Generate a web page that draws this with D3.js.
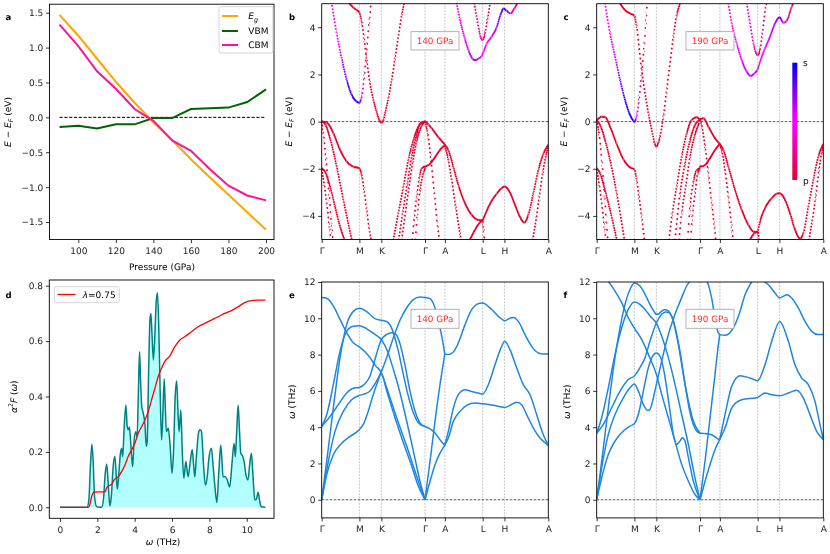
<!DOCTYPE html>
<html><head><meta charset="utf-8">
<script src="https://cdn.jsdelivr.net/npm/d3@7/dist/d3.min.js"></script>
<style>html,body{margin:0;padding:0;background:#fff;}svg{display:block;will-change:transform;}text{white-space:pre;text-rendering:geometricPrecision;-webkit-font-smoothing:antialiased;}</style>
</head><body>
<svg id="fig" width="830" height="554" xmlns="http://www.w3.org/2000/svg"></svg>
<script>
// ================= DATA =================
// panel a
const pressure = [90,100,110,120,130,140,150,160,170,180,190,200];
const gapEg = [1.47,1.17,0.84,0.51,0.21,-0.07,-0.33,-0.60,-0.86,-1.11,-1.36,-1.61];
const vbm   = [-0.14,-0.12,-0.16,-0.10,-0.10,-0.01,-0.01,0.12,0.13,0.14,0.22,0.40];
const cbm   = [1.33,1.02,0.66,0.41,0.12,-0.05,-0.33,-0.48,-0.74,-0.98,-1.12,-1.19];
const pressTicks = [100,120,140,160,180,200];
const eTicksA = [-1.5,-1.0,-0.5,0.0,0.5,1.0,1.5];

// k-path
const kTicks = [0,0.575,0.910,1.576,1.879,2.455,2.787,3.456];
const kLabels = ["Γ","M","K","Γ","A","L","H","A"];
const bandTicks = [-4,-2,0,2,4];
const phononTicks = [0,2,4,6,8,10,12];

// panel b : electronic bands at 140 GPa, [k, E]
const bands140 = [
 [[0.150,5.05],[0.229,3.74],[0.305,2.68],[0.381,1.77],[0.458,1.13],[0.534,0.85],[0.574,0.80],[0.610,1.03],[0.646,1.84],[0.686,3.04],[0.727,4.31],[0.752,5.0]],
 [[0.422,5.01],[0.483,4.84],[0.534,4.73],[0.574,4.63],[0.610,4.24],[0.646,3.53],[0.686,2.61],[0.737,1.62],[0.788,0.92],[0.839,0.40],[0.875,0.08],[0.910,-0.04],[0.945,0.08],[0.966,0.35],[1.017,0.99],[1.068,1.77],[1.118,2.68],[1.169,3.60],[1.220,4.52],[1.256,5.0]],
 [[0,0],[0.076,-0.04],[0.178,-0.49],[0.280,-1.20],[0.381,-1.69],[0.483,-1.91],[0.574,-1.98],[0.610,-2.26],[0.646,-2.90],[0.686,-3.74],[0.727,-4.59],[0.752,-5.0]],
 [[0,0],[0.051,-0.10],[0.127,-0.71],[0.229,-1.91],[0.330,-3.32],[0.458,-5.0]],
 [[0,0],[0.025,-0.49],[0.066,-1.62],[0.112,-3.04],[0.152,-4.45],[0.168,-5.0]],
 [[0,-1.98],[0.051,-2.12],[0.127,-2.75],[0.203,-3.60],[0.280,-4.45],[0.346,-5.0]],
 [[0,-2.05],[0.036,-2.61],[0.076,-3.46],[0.117,-4.45],[0.137,-5.0]],
 [[1.093,-5.0],[1.169,-3.88],[1.246,-2.75],[1.322,-1.62],[1.398,-0.78],[1.474,-0.21],[1.525,-0.03],[1.576,0]],
 [[1.174,-5.0],[1.235,-3.88],[1.307,-2.61],[1.373,-1.48],[1.439,-0.64],[1.500,-0.10],[1.576,0]],
 [[1.220,-5.0],[1.270,-4.0],[1.330,-2.8],[1.390,-1.7],[1.450,-0.8],[1.520,-0.2],[1.576,0]],
 [[1.383,-5.0],[1.408,-4.17],[1.449,-3.18],[1.490,-2.33],[1.525,-1.98],[1.576,-1.91]],
 [[1.430,-5.0],[1.460,-3.9],[1.500,-2.9],[1.550,-2.19],[1.576,-2.0]],
 [[1.576,0],[1.627,-0.12],[1.677,-0.28],[1.779,-0.66],[1.880,-0.99],[1.931,-1.20],[2.007,-1.91],[2.083,-2.68],[2.185,-3.46],[2.286,-3.95],[2.388,-4.17],[2.455,-4.19]],
 [[2.455,-4.19],[2.491,-3.95],[2.567,-3.49],[2.669,-3.06],[2.745,-2.82],[2.786,-2.75],[2.872,-3.01],[2.948,-3.53],[3.025,-4.05],[3.091,-4.28],[3.152,-3.95],[3.228,-3.04],[3.304,-2.05],[3.380,-1.37],[3.456,-0.99]],
 [[1.576,-1.91],[1.652,-1.79],[1.728,-1.51],[1.804,-1.20],[1.880,-0.99]],
 [[1.576,-0.03],[1.616,-0.49],[1.667,-1.62],[1.718,-3.04],[1.769,-4.45],[1.794,-5.0]],
 [[1.880,-1.06],[1.931,-1.62],[1.982,-2.47],[2.043,-3.60],[2.109,-4.73],[2.125,-5.0]],
 [[2.262,-5.0],[2.338,-4.59],[2.414,-4.28],[2.455,-4.19],[2.471,-4.59],[2.481,-5.0]],
 [[3.218,-5.0],[3.269,-4.17],[3.319,-3.18],[3.370,-2.19],[3.416,-1.48],[3.456,-1.06]],
 [[2.059,5.01],[2.109,4.31],[2.175,3.60],[2.236,3.04],[2.297,2.68],[2.338,2.60],[2.388,2.67],[2.439,2.78],[2.470,2.97],[2.515,3.29],[2.591,3.60],[2.669,4.00],[2.734,4.59],[2.775,4.80],[2.821,4.70],[2.882,4.59],[2.938,4.80],[2.989,5.04]],
 [[2.328,5.01],[2.363,4.45],[2.399,3.88],[2.429,3.53],[2.455,3.46],[2.491,3.74],[2.526,4.31],[2.567,4.99]]
];
// s-orbital weight (0 = p, 1 = s) for bands with mixed character
const sWeight140 = {
 0:  [0.45,0.5,0.6,0.8,0.9,0.95,0.9,0.5,0.25,0.1,0,0],
 19: [0.45,0.5,0.55,0.6,0.65,0.68,0.6,0.5,0.45,0.5,0.55,0.65,0.8,0.9,0.75,0.35,0.25,0.2],
 20: [0.1,0.12,0.2,0.3,0.35,0.25,0.1,0.05]
};

// panel c : electronic bands at 190 GPa
const bands190 = [
 [[0.127,5.01],[0.203,3.74],[0.280,2.75],[0.356,1.77],[0.432,0.92],[0.508,0.28],[0.559,0.04],[0.574,-0.01],[0.610,0.21],[0.645,0.92],[0.686,2.05],[0.727,3.32],[0.752,4.3],[0.770,5.02]],
 [[0.356,5.01],[0.432,4.73],[0.508,4.59],[0.574,4.49],[0.610,4.03],[0.645,3.18],[0.686,2.19],[0.737,1.20],[0.788,0.35],[0.849,-0.49],[0.880,-0.90],[0.910,-1.06],[0.940,-0.90],[0.966,-0.64],[1.017,0.21],[1.068,1.34],[1.118,2.47],[1.169,3.60],[1.220,4.52],[1.271,4.99]],
 [[0,0.04],[0.076,0.21],[0.137,0.17],[0.203,-0.21],[0.305,-0.95],[0.407,-1.60],[0.508,-1.94],[0.574,-2.02],[0.610,-2.47],[0.645,-3.18],[0.686,-4.03],[0.727,-5.0]],
 [[0,0.04],[0.051,-0.14],[0.127,-0.78],[0.203,-1.62],[0.305,-3.04],[0.422,-5.0]],
 [[0,0],[0.036,-0.49],[0.076,-1.62],[0.117,-3.04],[0.153,-4.45],[0.168,-5.0]],
 [[0,-1.98],[0.051,-2.19],[0.127,-2.90],[0.203,-3.74],[0.305,-5.0]],
 [[0,-2.05],[0.036,-2.61],[0.076,-3.46],[0.117,-4.45],[0.137,-5.0]],
 [[1.103,-5.0],[1.154,-3.88],[1.220,-2.75],[1.296,-1.48],[1.373,-0.49],[1.449,0.07],[1.525,0.18],[1.576,0.07]],
 [[1.195,-5.0],[1.271,-3.04],[1.347,-1.77],[1.424,-0.78],[1.500,-0.14],[1.576,0.07]],
 [[1.256,-5.0],[1.296,-3.88],[1.358,-2.75],[1.424,-1.48],[1.490,-0.64],[1.561,-0.07]],
 [[1.388,-5.0],[1.424,-3.60],[1.475,-2.54],[1.525,-2.05],[1.576,-1.98]],
 [[1.434,-5.0],[1.459,-4.03],[1.500,-3.04],[1.540,-2.19],[1.576,-2.0]],
 [[1.576,0.10],[1.627,0.14],[1.703,-0.21],[1.805,-0.71],[1.876,-0.95],[1.932,-1.20],[2.008,-1.91],[2.110,-2.90],[2.211,-3.74],[2.313,-4.38],[2.389,-4.66],[2.455,-4.70]],
 [[2.455,-4.70],[2.491,-4.24],[2.567,-3.67],[2.669,-3.25],[2.745,-3.06],[2.791,-3.04],[2.872,-3.32],[2.948,-3.88],[3.025,-4.59],[3.101,-4.96],[3.152,-4.73],[3.228,-3.60],[3.304,-2.47],[3.380,-1.48],[3.457,-0.95]],
 [[1.576,-1.91],[1.652,-1.84],[1.728,-1.55],[1.805,-1.20],[1.876,-0.95]],
 [[1.576,0.10],[1.601,-0.14],[1.652,-1.06],[1.703,-2.19],[1.754,-3.46],[1.795,-4.45],[1.815,-5.0]],
 [[1.876,-0.95],[1.906,-1.20],[1.957,-2.05],[2.008,-3.18],[2.059,-4.45],[2.079,-5.0]],
 [[2.339,-5.0],[2.405,-4.73],[2.455,-4.66],[2.476,-5.0]],
 [[3.238,-5.0],[3.289,-4.17],[3.340,-3.18],[3.390,-2.05],[3.431,-1.34],[3.457,-1.06]],
 [[2.008,5.01],[2.059,4.17],[2.135,3.32],[2.211,2.61],[2.288,2.12],[2.349,1.94],[2.405,2.05],[2.455,2.22],[2.491,2.54],[2.557,3.04],[2.643,3.60],[2.720,4.17],[2.791,4.42],[2.847,4.19],[2.898,4.28],[2.974,4.87],[3.000,5.04]],
 [[2.288,5.01],[2.339,4.17],[2.389,3.32],[2.430,2.90],[2.455,2.82],[2.491,3.04],[2.526,3.74],[2.577,4.87],[2.585,5.02]]
];
const sWeight190 = {
 0:  [0.5,0.5,0.55,0.7,0.85,0.95,0.95,0.9,0.5,0.2,0.05,0,0,0],
 19: [0.4,0.45,0.5,0.55,0.6,0.62,0.6,0.55,0.45,0.5,0.55,0.65,0.8,0.45,0.3,0.2,0.15],
 20: [0.5,0.45,0.35,0.25,0.2,0.15,0.1,0.05,0.05]
};

// panel d : Eliashberg function [omega THz, value] and cumulative lambda
const a2F = [[0,0],[1.0,0],[1.45,0],[1.55,0.03],[1.63,0.15],[1.71,0.228],[1.78,0.16],[1.85,0.04],[1.96,0.003],[2.1,0],[2.23,0],[2.33,0.03],[2.42,0.12],[2.50,0.156],[2.58,0.09],[2.67,0.005],[2.75,0.04],[2.85,0.15],[2.94,0.183],[3.0,0.13],[3.07,0.065],[3.15,0.12],[3.23,0.19],[3.30,0.213],[3.36,0.183],[3.43,0.28],[3.53,0.369],[3.60,0.29],[3.66,0.28],[3.72,0.29],[3.78,0.24],[3.89,0.146],[3.97,0.243],[4.06,0.273],[4.13,0.255],[4.20,0.42],[4.26,0.562],[4.32,0.45],[4.37,0.37],[4.46,0.339],[4.55,0.30],[4.62,0.22],[4.67,0.24],[4.75,0.50],[4.82,0.68],[4.87,0.70],[4.93,0.62],[5.0,0.532],[5.08,0.62],[5.15,0.74],[5.22,0.775],[5.29,0.65],[5.37,0.40],[5.44,0.243],[5.50,0.32],[5.58,0.463],[5.64,0.36],[5.70,0.273],[5.80,0.285],[5.90,0.22],[6.0,0.123],[6.08,0.2],[6.17,0.40],[6.25,0.456],[6.32,0.34],[6.38,0.273],[6.47,0.351],[6.55,0.2],[6.63,0.105],[6.74,0.165],[6.86,0.11],[6.95,0.15],[7.08,0.209],[7.16,0.15],[7.22,0.11],[7.30,0.18],[7.43,0.273],[7.50,0.28],[7.58,0.273],[7.68,0.16],[7.79,0.08],[7.90,0.12],[7.97,0.175],[8.11,0.213],[8.20,0.15],[8.29,0.08],[8.40,0.017],[8.50,0.12],[8.61,0.225],[8.68,0.16],[8.73,0.11],[8.85,0.11],[8.95,0.10],[9.09,0.074],[9.20,0.15],[9.32,0.231],[9.39,0.183],[9.46,0.27],[9.54,0.369],[9.61,0.28],[9.68,0.195],[9.78,0.185],[9.86,0.165],[9.95,0.12],[10.07,0.099],[10.15,0.15],[10.25,0.195],[10.33,0.12],[10.43,0.026],[10.52,0.03],[10.61,0.054],[10.70,0.02],[10.78,0.002],[11.0,0]];
const lambdaCum = [[0,0],[1.52,0],[1.60,0.01],[1.69,0.038],[1.78,0.052],[1.84,0.055],[2.41,0.056],[2.50,0.07],[2.58,0.077],[2.76,0.082],[2.90,0.099],[3.12,0.111],[3.30,0.129],[3.48,0.153],[3.65,0.183],[3.83,0.207],[4.01,0.231],[4.19,0.267],[4.37,0.291],[4.55,0.315],[4.72,0.345],[4.90,0.387],[5.08,0.429],[5.26,0.472],[5.44,0.502],[5.61,0.526],[5.88,0.546],[6.15,0.58],[6.42,0.604],[6.68,0.616],[7.04,0.634],[7.40,0.652],[7.75,0.664],[8.11,0.676],[8.47,0.688],[8.82,0.70],[9.18,0.71],[9.54,0.724],[9.89,0.739],[10.25,0.746],[10.61,0.748],[11.0,0.748]];
const omegaTicks = [0,2,4,6,8,10];
const a2fTicks = [0.0,0.2,0.4,0.6,0.8];

// panel e : phonon branches at 140 GPa [k, omega THz]
const phonon140 = [
 [[0,11.14],[0.076,11.10],[0.177,10.68],[0.279,9.94],[0.381,9.21],[0.482,8.65],[0.574,8.43],[0.660,8.16],[0.737,7.83],[0.813,7.42],[0.910,7.0],[0.991,6.17],[1.143,4.52],[1.296,2.96],[1.448,1.30],[1.576,0]],
 [[0,0],[0.076,2.11],[0.177,5.05],[0.279,7.81],[0.381,9.65],[0.482,10.38],[0.574,10.55],[0.660,10.44],[0.737,10.21],[0.813,9.98],[0.910,9.89],[0.965,9.85],[1.016,9.76],[1.093,9.21],[1.169,8.19],[1.245,6.91],[1.321,5.71],[1.398,4.79],[1.474,4.24],[1.525,4.10],[1.576,4.06]],
 [[0,0],[0.101,2.11],[0.203,3.77],[0.330,4.87],[0.457,5.51],[0.574,5.75],[0.660,5.84],[0.737,5.99],[0.813,6.39],[0.910,7.06],[0.991,7.83],[1.093,8.93],[1.194,9.89],[1.296,10.58],[1.398,11.03],[1.499,11.17],[1.576,11.14]],
 [[0,0],[0.076,1.38],[0.177,2.48],[0.305,3.12],[0.432,3.49],[0.574,3.86],[0.635,4.15],[0.711,4.89],[0.788,5.81],[0.849,6.45],[0.910,6.95],[0.991,6.0],[1.118,4.52],[1.245,3.15],[1.372,1.86],[1.474,0.75],[1.576,0]],
 [[0,4.04],[0.127,4.59],[0.254,5.24],[0.381,5.88],[0.482,6.15],[0.574,6.19],[0.660,6.39],[0.737,6.82],[0.813,7.74],[0.910,8.82],[0.991,9.11],[1.067,9.21],[1.133,9.11],[1.194,8.60],[1.270,7.42],[1.347,5.99],[1.423,4.89],[1.499,4.24],[1.576,4.04]],
 [[0,4.04],[0.076,4.68],[0.177,6.34],[0.279,8.18],[0.381,9.28],[0.482,9.56],[0.574,9.59],[0.660,9.48],[0.737,9.30],[0.813,9.11],[0.910,8.82],[0.991,8.29],[1.093,7.19],[1.194,5.90],[1.296,4.34],[1.398,2.68],[1.499,1.03],[1.576,0]],
 [[1.576,11.15],[1.652,11.08],[1.728,10.57],[1.804,9.46],[1.855,8.54],[1.876,8.03]],
 [[1.576,0],[1.652,2.11],[1.728,4.32],[1.804,6.34],[1.855,7.53],[1.876,8.03]],
 [[1.576,4.04],[1.652,3.91],[1.728,3.68],[1.804,3.31],[1.876,3.0]],
 [[1.576,0],[1.652,1.01],[1.728,1.93],[1.804,2.57],[1.876,3.0]],
 [[1.876,8.03],[1.931,8.0],[2.008,8.14],[2.084,8.64],[2.186,9.65],[2.287,10.48],[2.364,10.77],[2.455,10.84],[2.567,10.57],[2.694,10.11],[2.791,9.87],[2.872,10.01],[2.923,10.05],[2.999,9.83],[3.101,9.1],[3.202,8.45],[3.304,8.09],[3.380,8.03],[3.457,8.03]],
 [[1.876,3.0],[1.931,3.77],[2.008,5.05],[2.084,5.79],[2.186,6.06],[2.287,5.97],[2.389,5.88],[2.455,5.83],[2.541,6.34],[2.643,7.44],[2.745,8.45],[2.791,8.73],[2.872,8.27],[2.974,7.26],[3.075,6.34],[3.177,5.79],[3.279,4.69],[3.380,3.58],[3.457,3.0]],
 [[1.876,3.0],[1.931,3.4],[2.008,4.32],[2.109,4.87],[2.211,5.2],[2.338,5.33],[2.455,5.29],[2.567,5.24],[2.694,5.15],[2.791,5.09],[2.872,5.2],[2.974,5.38],[3.050,5.24],[3.126,4.69],[3.228,3.95],[3.329,3.4],[3.457,3.0]]
];
// panel f : phonon branches at 190 GPa
const phonon190 = [
 [[0,0],[0.051,1.40],[0.127,3.60],[0.203,5.81],[0.279,7.83],[0.356,9.48],[0.432,10.77],[0.508,11.59],[0.574,11.94],[0.660,11.78],[0.737,11.32],[0.813,10.77],[0.879,10.35],[0.910,10.22],[0.950,10.25],[0.991,10.40],[1.042,10.47],[1.093,10.40],[1.154,10.03],[1.220,9.11],[1.286,7.83],[1.347,6.36],[1.408,5.07],[1.474,4.15],[1.525,3.79],[1.576,3.66]],
 [[0,3.66],[0.076,4.52],[0.177,6.17],[0.279,8.01],[0.381,9.48],[0.482,10.49],[0.574,10.90],[0.660,10.77],[0.737,10.49],[0.828,10.07],[0.910,9.74],[0.991,9.02],[1.093,7.83],[1.194,6.36],[1.296,4.70],[1.398,3.05],[1.499,1.21],[1.576,0]],
 [[0,0],[0.076,1.21],[0.177,2.50],[0.279,3.23],[0.406,3.79],[0.508,4.06],[0.574,4.19],[0.635,4.70],[0.711,5.99],[0.788,7.28],[0.864,7.98],[0.910,8.09],[0.965,7.92],[1.016,7.28],[1.067,6.17],[1.118,4.89],[1.169,3.60],[1.220,3.05],[1.270,3.23],[1.306,3.42],[1.347,3.23],[1.398,2.32],[1.474,1.03],[1.576,0]],
 [[0,3.66],[0.101,4.15],[0.228,5.07],[0.356,5.99],[0.482,6.63],[0.574,6.82],[0.660,7.28],[0.737,7.83],[0.813,8.75],[0.910,9.74],[0.991,10.22],[1.052,10.35],[1.103,10.31],[1.169,9.85],[1.245,8.56],[1.321,6.91],[1.398,5.44],[1.474,4.34],[1.576,3.66]],
 [[0,0],[0.076,1.76],[0.177,3.60],[0.279,4.70],[0.406,5.62],[0.508,6.17],[0.574,6.38],[0.635,5.99],[0.711,5.26],[0.777,4.92],[0.813,4.98],[0.864,5.62],[0.910,6.36],[0.991,7.64],[1.093,9.11],[1.194,10.22],[1.296,11.14],[1.372,11.78],[1.423,12.05],[1.500,12.4],[1.576,12.55]],
 [[0,12.6],[0.090,12.35],[0.178,12.02],[0.279,11.5],[0.381,10.86],[0.482,10.03],[0.574,9.46],[0.686,8.84],[0.788,8.01],[0.910,6.91],[0.991,5.81],[1.093,4.52],[1.194,3.23],[1.296,1.95],[1.398,1.03],[1.499,0.29],[1.576,0]],
 [[1.576,12.55],[1.620,12.45],[1.652,12.22],[1.703,11.85],[1.753,11.12],[1.804,10.01],[1.845,9.28],[1.876,9.1]],
 [[1.576,0],[1.652,2.11],[1.728,4.50],[1.804,6.89],[1.855,8.54],[1.876,9.1]],
 [[1.576,3.66],[1.678,3.64],[1.753,3.58],[1.830,3.4],[1.876,3.31]],
 [[1.576,0],[1.652,1.01],[1.728,1.93],[1.804,2.76],[1.876,3.31]],
 [[1.876,9.1],[1.957,9.06],[2.029,9.19],[2.109,9.65],[2.186,10.38],[2.262,11.30],[2.338,11.85],[2.414,12.22],[2.455,12.3],[2.516,12.13],[2.618,11.85],[2.720,11.39],[2.791,11.12],[2.847,11.21],[2.897,11.30],[2.974,11.12],[3.075,10.57],[3.177,9.83],[3.279,9.28],[3.380,9.1],[3.457,9.1]],
 [[1.876,3.31],[1.957,4.69],[2.059,6.25],[2.186,6.84],[2.338,6.71],[2.455,6.56],[2.567,7.44],[2.669,8.73],[2.791,9.83],[2.923,8.73],[3.024,7.44],[3.126,6.71],[3.228,6.34],[3.329,5.42],[3.406,4.13],[3.457,3.31]],
 [[1.876,3.31],[1.957,3.95],[2.059,5.05],[2.211,5.51],[2.455,5.64],[2.567,5.88],[2.669,5.79],[2.791,5.73],[2.923,5.88],[3.050,6.03],[3.152,5.60],[3.253,4.69],[3.355,3.77],[3.457,3.31]]
];

// ================= DRAWING =================
const svg = d3.select("#fig");
const defs = svg.append("defs");
const FONT = "DejaVu Sans, sans-serif";
const FS = 9;
const STEP = 0.55;
const H = 554;

const boxA = {l:49.5, r:274,   t:4.2, b:239.5};
const boxB = {l:321.7, r:548.3, t:3.7, b:239.5};
const boxC = {l:596.7, r:823.3, t:3.7, b:239.5};
const boxD = {l:49.3, r:274,   t:280, b:518.3};
const boxE = {l:321.7, r:548.3, t:282, b:517.9};
const boxF = {l:596.7, r:823.3, t:282, b:517.9};

const sColor = d3.scaleLinear().domain([0,0.5,1]).range(["#e6002e","#ff00ff","#0000ff"]);
const phColor = "#1f86e0";

let uid = 0;
function clipFor(box){
  const id = "clp" + (uid++);
  defs.append("clipPath").attr("id", id).append("rect")
    .attr("x", box.l).attr("y", box.t).attr("width", box.r - box.l).attr("height", box.b - box.t);
  return `url(#${id})`;
}
function axes(box, x, y, xt, xf, yt, yf){
  const gx = svg.append("g").attr("transform", `translate(0,${box.b})`)
    .call(d3.axisBottom(x).tickValues(xt).tickFormat(xf).tickSize(3.5).tickPadding(4.5));
  const gy = svg.append("g").attr("transform", `translate(${box.l},0)`)
    .call(d3.axisLeft(y).tickValues(yt).tickFormat(yf).tickSize(3.5).tickPadding(2.7));
  [gx, gy].forEach(g => {
    g.select(".domain").remove();
    g.attr("font-family", FONT).attr("font-size", FS);
    g.selectAll(".tick line").attr("stroke", "#000").attr("stroke-width", 0.8);
    g.selectAll(".tick text").attr("fill", "#222");
  });
  svg.append("rect").attr("x", box.l).attr("y", box.t).attr("width", box.r - box.l).attr("height", box.b - box.t)
    .attr("fill", "none").attr("stroke", "#000").attr("stroke-width", 0.9);
}
function rich(parent, x, y, parts, o = {}){
  const size = o.size || FS;
  const t = parent.append("text").attr("transform", `translate(${x},${y}) rotate(${o.rotate || 0})`)
    .attr("text-anchor", o.anchor || "middle").attr("font-family", FONT).attr("font-size", size)
    .attr("font-weight", o.weight || "normal").attr("fill", o.fill || "#000");
  let shift = 0;
  parts.forEach(p => {
    const s = t.append("tspan").text(p.t);
    if (p.it) s.attr("font-style", "italic");
    const target = p.sub ? size * 0.28 : (p.sup ? -size * 0.4 : 0);
    if (target !== shift) { s.attr("dy", target - shift); shift = target; }
    if (p.sub || p.sup) s.attr("font-size", size * 0.7);
  });
  return t;
}
function panelLetter(x, y, s){ rich(svg, x, y, [{t:s}], {anchor:"start", weight:"bold", size:8.5}); }
function pressBox(box, cx, cy, w, h, s){
  svg.append("rect").attr("x", cx - w/2).attr("y", cy - h/2).attr("width", w).attr("height", h)
    .attr("fill", "#fff").attr("stroke", "#aaa").attr("stroke-width", 0.9);
  rich(svg, cx, cy + 3.2, [{t:s}], {fill:"#ff2a2a", size:8.8});
}
function kGuides(g, x, y, box, yZero){
  kTicks.slice(1, -1).forEach(k => {
    g.append("line").attr("x1", x(k)).attr("x2", x(k)).attr("y1", box.t).attr("y2", box.b)
      .attr("stroke", "#b0b0b0").attr("stroke-width", 0.7).attr("stroke-dasharray", "2,1.2");
  });
  g.append("line").attr("x1", box.l).attr("x2", box.r).attr("y1", y(yZero)).attr("y2", y(yZero))
    .attr("stroke", "#333").attr("stroke-width", 0.8).attr("stroke-dasharray", "2.6,1.4");
}

// ---------- panel a ----------
{
  const x = d3.scaleLinear().domain([84.65, 204.26]).range([boxA.l, boxA.r]);
  const y = d3.scaleLinear().domain([-1.751, 1.622]).range([boxA.b, boxA.t]);
  const g = svg.append("g").attr("clip-path", clipFor(boxA));
  g.append("line").attr("x1", x(pressure[0])).attr("x2", x(pressure[pressure.length-1]))
    .attr("y1", y(0)).attr("y2", y(0)).attr("stroke", "#000").attr("stroke-width", 1).attr("stroke-dasharray", "3.2,1.6");
  const series = [{v:gapEg, c:"#ffa500"}, {v:vbm, c:"#006400"}, {v:cbm, c:"#ff1493"}];
  const line = d3.line().x((d, i) => x(pressure[i])).y(d => y(d));
  series.forEach(s => g.append("path").attr("d", line(s.v)).attr("fill", "none").attr("stroke", s.c).attr("stroke-width", 2));
  axes(boxA, x, y, pressTicks, d3.format("d"), eTicksA, d3.format(".1f"));
  // legend
  svg.append("rect").attr("x", 219).attr("y", 6.7).attr("width", 54).attr("height", 46.3).attr("rx", 2)
    .attr("fill", "#fff").attr("fill-opacity", 0.8).attr("stroke", "#ccc").attr("stroke-width", 0.8);
  const rows = [16, 31, 45];
  series.forEach((s, i) => svg.append("line").attr("x1", 222).attr("x2", 238).attr("y1", rows[i]).attr("y2", rows[i])
    .attr("stroke", s.c).attr("stroke-width", 2));
  rich(svg, 248.3, rows[0] + 3.2, [{t:"E", it:true}, {t:"g", it:true, sub:true}], {anchor:"start"});
  rich(svg, 248.3, rows[1] + 3.2, [{t:"VBM"}], {anchor:"start"});
  rich(svg, 248.3, rows[2] + 3.2, [{t:"CBM"}], {anchor:"start"});
  rich(svg, 162, 270, [{t:"Pressure (GPa)"}]);
  rich(svg, 10.5, 122, [{t:"E", it:true}, {t:" − "}, {t:"E", it:true}, {t:"F", it:true, sub:true}, {t:" (eV)"}], {rotate:-90});
  panelLetter(5.5, 19.5, "a");
}

// ---------- band panels ----------
function bandPanel(box, bands, weights, label, letterX, ylabX, withBar){
  const x = d3.scaleLinear().domain([0, kTicks[kTicks.length-1]]).range([box.l, box.r]);
  const y = d3.scaleLinear().domain([-5, 5]).range([box.b, box.t]);
  const g = svg.append("g").attr("clip-path", clipFor(box));
  kGuides(g, x, y, box, 0);
  const line = d3.line().x(d => x(d[0])).y(d => y(d[1])).curve(d3.curveMonotoneX);
  bands.forEach((pts, bi) => {
    const w = weights[bi];
    let stroke = sColor(0);
    if (w) {
      const gid = "grd" + (uid++);
      const k0 = pts[0][0], k1 = pts[pts.length-1][0];
      const grad = defs.append("linearGradient").attr("id", gid).attr("gradientUnits", "userSpaceOnUse")
        .attr("x1", x(k0)).attr("x2", x(k1)).attr("y1", 0).attr("y2", 0);
      pts.forEach((p, i) => grad.append("stop").attr("offset", (p[0]-k0)/(k1-k0)).attr("stop-color", sColor(w[i])));
      stroke = `url(#${gid})`;
    }
    const d = line(pts);
    for (let i = 0; i < pts.length - 1; i++) {
      const xa = x(pts[i][0]), xb = x(pts[i+1][0]);
      const dx = Math.max(xb - xa, 0.01), dy = y(pts[i+1][1]) - y(pts[i][1]);
      const gap = Math.max(STEP * Math.sqrt(1 + (dy/dx) * (dy/dx)), 0.8);
      const cid = "seg" + (uid++);
      defs.append("clipPath").attr("id", cid).append("rect")
        .attr("x", xa - (i === 0 ? 2 : 0)).attr("width", xb - xa + (i === 0 ? 2 : 0) + (i === pts.length-2 ? 2 : 0))
        .attr("y", 0).attr("height", H);
      g.append("path").attr("d", d).attr("clip-path", `url(#${cid})`).attr("fill", "none")
        .attr("stroke", stroke).attr("stroke-width", 2).attr("stroke-linecap", "round")
        .attr("stroke-dasharray", `0 ${gap.toFixed(2)}`);
    }
  });
  axes(box, x, y, kTicks, (d, i) => kLabels[i], bandTicks, d3.format("d"));
  pressBox(box, box.l + 113.3, 40.8, 48, 18.3, label);
  rich(svg, ylabX, 121.7, [{t:"E", it:true}, {t:" − "}, {t:"E", it:true}, {t:"F", it:true, sub:true}, {t:" (eV)"}], {rotate:-90});
  if (withBar) {
    const gid = "cbar" + (uid++);
    const gr = defs.append("linearGradient").attr("id", gid).attr("x1", 0).attr("x2", 0).attr("y1", 0).attr("y2", 1);
    [0, 0.25, 0.5, 0.75, 1].forEach(o => gr.append("stop").attr("offset", o).attr("stop-color", sColor(1 - o)));
    svg.append("rect").attr("x", 792.3).attr("y", 62.7).attr("width", 5).attr("height", 117.3).attr("fill", `url(#${gid})`);
    rich(svg, 803, 66.2, [{t:"s"}], {anchor:"start"});
    rich(svg, 803, 184.2, [{t:"p"}], {anchor:"start"});
  }
}
bandPanel(boxB, bands140, sWeight140, "140 GPa", 289, 291.5, false);
panelLetter(289, 19.5, "b");
bandPanel(boxC, bands190, sWeight190, "190 GPa", 563.5, 566.5, true);
panelLetter(563.5, 19.5, "c");

// ---------- panel d ----------
{
  const x = d3.scaleLinear().domain([-0.572, 11.46]).range([boxD.l, boxD.r]);
  const y = d3.scaleLinear().domain([-0.0397, 0.8206]).range([boxD.b, boxD.t]);
  const g = svg.append("g").attr("clip-path", clipFor(boxD));
  const area = d3.area().x(d => x(d[0])).y0(y(0)).y1(d => y(d[1])).curve(d3.curveMonotoneX);
  const line = d3.line().x(d => x(d[0])).y(d => y(d[1])).curve(d3.curveMonotoneX);
  g.append("path").attr("d", area(a2F)).attr("fill", "#b3ffff");
  g.append("path").attr("d", line(a2F)).attr("fill", "none").attr("stroke", "#008080").attr("stroke-width", 1.5);
  g.append("path").attr("d", line(lambdaCum)).attr("fill", "none").attr("stroke", "#ff0000").attr("stroke-width", 1.3);
  axes(boxD, x, y, omegaTicks, d3.format("d"), a2fTicks, d3.format(".1f"));
  svg.append("rect").attr("x", 54.3).attr("y", 286.7).attr("width", 65).attr("height", 16).attr("rx", 2)
    .attr("fill", "#fff").attr("fill-opacity", 0.8).attr("stroke", "#ccc").attr("stroke-width", 0.8);
  svg.append("line").attr("x1", 57.5).attr("x2", 75.5).attr("y1", 294.5).attr("y2", 294.5).attr("stroke", "#ff0000").attr("stroke-width", 1.3);
  rich(svg, 82.7, 297.8, [{t:"λ", it:true}, {t:"=0.75"}], {anchor:"start"});
  rich(svg, 163, 545, [{t:"ω", it:true}, {t:" (THz)"}]);
  rich(svg, 16.5, 396.7, [{t:"α", it:true}, {t:"2", sup:true}, {t:"F", it:true}, {t:" ("}, {t:"ω", it:true}, {t:")"}], {rotate:-90});
  panelLetter(5.5, 298.2, "d");
}

// ---------- phonon panels ----------
function phononPanel(box, branches, label, ylabX){
  const x = d3.scaleLinear().domain([0, kTicks[kTicks.length-1]]).range([box.l, box.r]);
  const y = d3.scaleLinear().domain([-1, 12]).range([box.b, box.t]);
  const g = svg.append("g").attr("clip-path", clipFor(box));
  kGuides(g, x, y, box, 0);
  const line = d3.line().x(d => x(d[0])).y(d => y(d[1])).curve(d3.curveMonotoneX);
  branches.forEach(b => g.append("path").attr("d", line(b)).attr("fill", "none")
    .attr("stroke", phColor).attr("stroke-width", 1.5));
  axes(box, x, y, kTicks, (d, i) => kLabels[i], phononTicks, d3.format("d"));
  pressBox(box, box.l + 113.3, 318.8, 48, 19, label);
  rich(svg, ylabX, 401.7, [{t:"ω", it:true}, {t:" (THz)"}], {rotate:-90});
}
phononPanel(boxE, phonon140, "140 GPa", 295);
panelLetter(289, 298.2, "e");
phononPanel(boxF, phonon190, "190 GPa", 570);
panelLetter(563.5, 298.2, "f");
</script>
</body></html>
